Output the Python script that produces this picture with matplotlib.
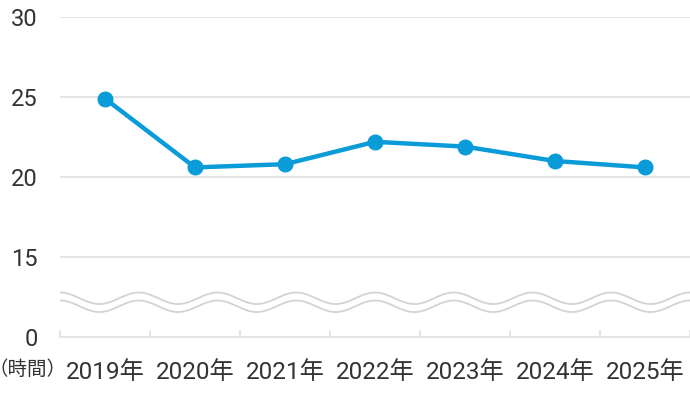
import matplotlib.pyplot as plt
import numpy as np

years = ["2019年", "2020年", "2021年", "2022年", "2023年", "2024年", "2025年"]
hours = [24.9, 20.6, 20.8, 22.2, 21.9, 21.0, 20.6]
ytick_vals = [10, 15, 20, 25, 30]
ytick_labels = ["0", "15", "20", "25", "30"]

FONT = ["Roboto", "Noto Sans CJK JP", "DejaVu Sans"]
plt.rcParams["font.family"] = FONT

BLUE = "#0a9bd9"
GRID = "#e3e3e7"
TEXT = "#333333"

fig = plt.figure(figsize=(6.9, 4.0), dpi=100)
ax = fig.add_axes([60 / 690, 1 - 337 / 400, 630 / 690, 320 / 400])

x = np.arange(len(years))
ax.plot(x, hours, "-o", color=BLUE, lw=3.2, ms=10.5, clip_on=False, zorder=5)

ax.set_xlim(-0.5, len(years) - 0.5)
ax.set_ylim(10, 30)

# gridlines (not at the broken-axis zero)
for v in ytick_vals[1:]:
    ax.axhline(v, color=GRID, lw=1.3, zorder=1)

# axis break waves (decoration)
wx = np.linspace(-0.5, len(years) - 0.5, 600)
phase = np.cos(2 * np.pi * (wx + 0.5) / 0.875)
ax.fill_between(wx, 11.92 + 0.36 * phase, 12.42 + 0.36 * phase, color="white", zorder=2)
ax.plot(wx, 12.42 + 0.36 * phase, color="#d3d3d7", lw=1.3, zorder=3)
ax.plot(wx, 11.92 + 0.36 * phase, color="#d3d3d7", lw=1.3, zorder=3)

for s in ["top", "right", "left"]:
    ax.spines[s].set_visible(False)
ax.spines["bottom"].set_color(GRID)
ax.spines["bottom"].set_linewidth(1.3)

ax.set_yticks(ytick_vals)
ax.set_yticklabels(ytick_labels)
ax.tick_params(axis="y", length=0, pad=16, labelsize=17, labelcolor=TEXT)

ax.set_xticks(x)
ax.set_xticklabels(years)
ax.tick_params(axis="x", which="major", length=0, pad=17, labelsize=17.5, labelcolor=TEXT)
ax.set_xticks(np.arange(-0.5, len(years)), minor=True)
ax.tick_params(axis="x", which="minor", direction="in", length=5, width=1.3, color=GRID)

fig.text(-12 / 690, 1 - 369 / 400, "（時間）", fontsize=14, color=TEXT,
         family=["Noto Sans CJK JP"], ha="left", va="center")

fig.savefig("out.png", dpi=100)
